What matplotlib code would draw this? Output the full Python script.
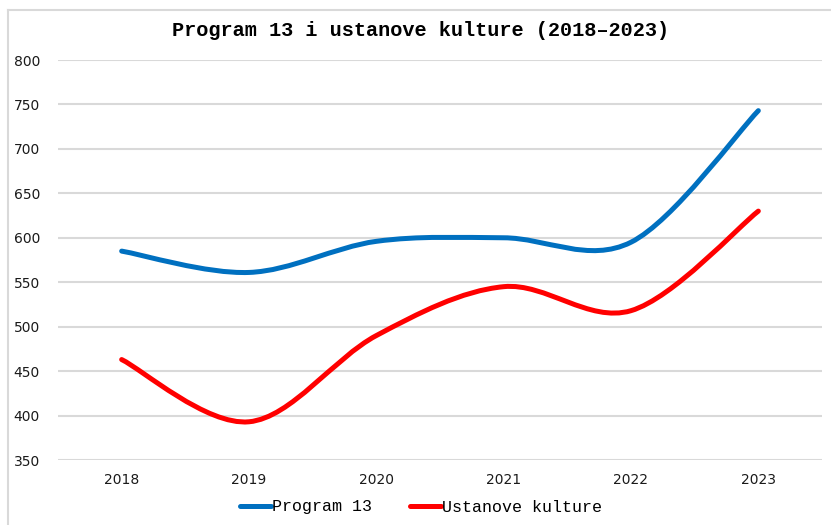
import matplotlib
matplotlib.use("Agg")
import matplotlib.pyplot as plt
from matplotlib.path import Path
from matplotlib.patches import PathPatch
from matplotlib.lines import Line2D
import numpy as np

years = ["2018", "2019", "2020", "2021", "2022", "2023"]
program13 = [585, 561, 596, 600, 595, 743]
ustanove = [463, 393, 490, 545, 518, 630]
yticks = [350, 400, 450, 500, 550, 600, 650, 700, 750, 800]

BLUE = "#0070C0"
RED = "#FF0000"
GRID = "#d9d9d9"

W, H = 831, 525
fig = plt.figure(figsize=(W / 100, H / 100), dpi=100)
ax = fig.add_axes([58 / W, 1 - 460 / H, (822 - 58) / W, 400 / H])


def smooth_path(xs, ys):
    pts = np.column_stack([xs, ys]).astype(float)
    n = len(pts)
    verts = [pts[0]]
    codes = [Path.MOVETO]
    for i in range(n - 1):
        p0 = pts[i - 1] if i > 0 else pts[i]
        p1 = pts[i]
        p2 = pts[i + 1]
        p3 = pts[i + 2] if i + 2 < n else pts[i + 1]
        c1 = p1 + (p2 - p0) / 6.0
        c2 = p2 - (p3 - p1) / 6.0
        verts += [c1, c2, p2]
        codes += [Path.CURVE4] * 3
    return Path(verts, codes)


x = np.arange(len(years))
for vals, col in [(program13, BLUE), (ustanove, RED)]:
    patch = PathPatch(smooth_path(x, vals), facecolor="none", edgecolor=col,
                      lw=3.6, capstyle="round", joinstyle="round", zorder=3)
    ax.add_patch(patch)

ax.set_xlim(-0.5, len(years) - 0.5)
ax.set_ylim(350, 800)
ax.set_yticks(yticks)
ax.set_xticks(x)
ax.set_xticklabels(years)
ax.grid(axis="y", color=GRID, lw=1.5)
ax.set_axisbelow(True)
for s in ax.spines.values():
    s.set_visible(False)
ax.tick_params(axis="both", length=0, labelsize=10, labelcolor="#1a1a1a")
ax.tick_params(axis="y", pad=13)
ax.tick_params(axis="x", pad=9)
for lab in ax.get_xticklabels() + ax.get_yticklabels():
    lab.set_family("DejaVu Sans")

fig.text(421 / W, 1 - 31 / H, "Program 13 i ustanove kulture (2018\u20132023)",
         ha="center", va="center", fontsize=14.6, fontweight="bold",
         family="Liberation Mono", color="black")

handles = [Line2D([], [], color=BLUE, lw=3.6, solid_capstyle="round"),
           Line2D([], [], color=RED, lw=3.6, solid_capstyle="round")]
fig.legend(handles, ["Program 13", "Ustanove kulture"], loc="center",
           bbox_to_anchor=(421 / W, 1 - 507 / H), ncol=2, frameon=False,
           prop={"family": "Liberation Mono", "size": 12},
           handlelength=1.9, handletextpad=0.05, columnspacing=2.25)

# outer frame (top and left edges visible)
fig.add_artist(Line2D([8 / W, 1.0], [1 - 10 / H, 1 - 10 / H], color=GRID, lw=1.5,
                      transform=fig.transFigure))
fig.add_artist(Line2D([8 / W, 8 / W], [1 - 10 / H, 0.0], color=GRID, lw=1.5,
                      transform=fig.transFigure))

fig.savefig("out.png", dpi=100)
